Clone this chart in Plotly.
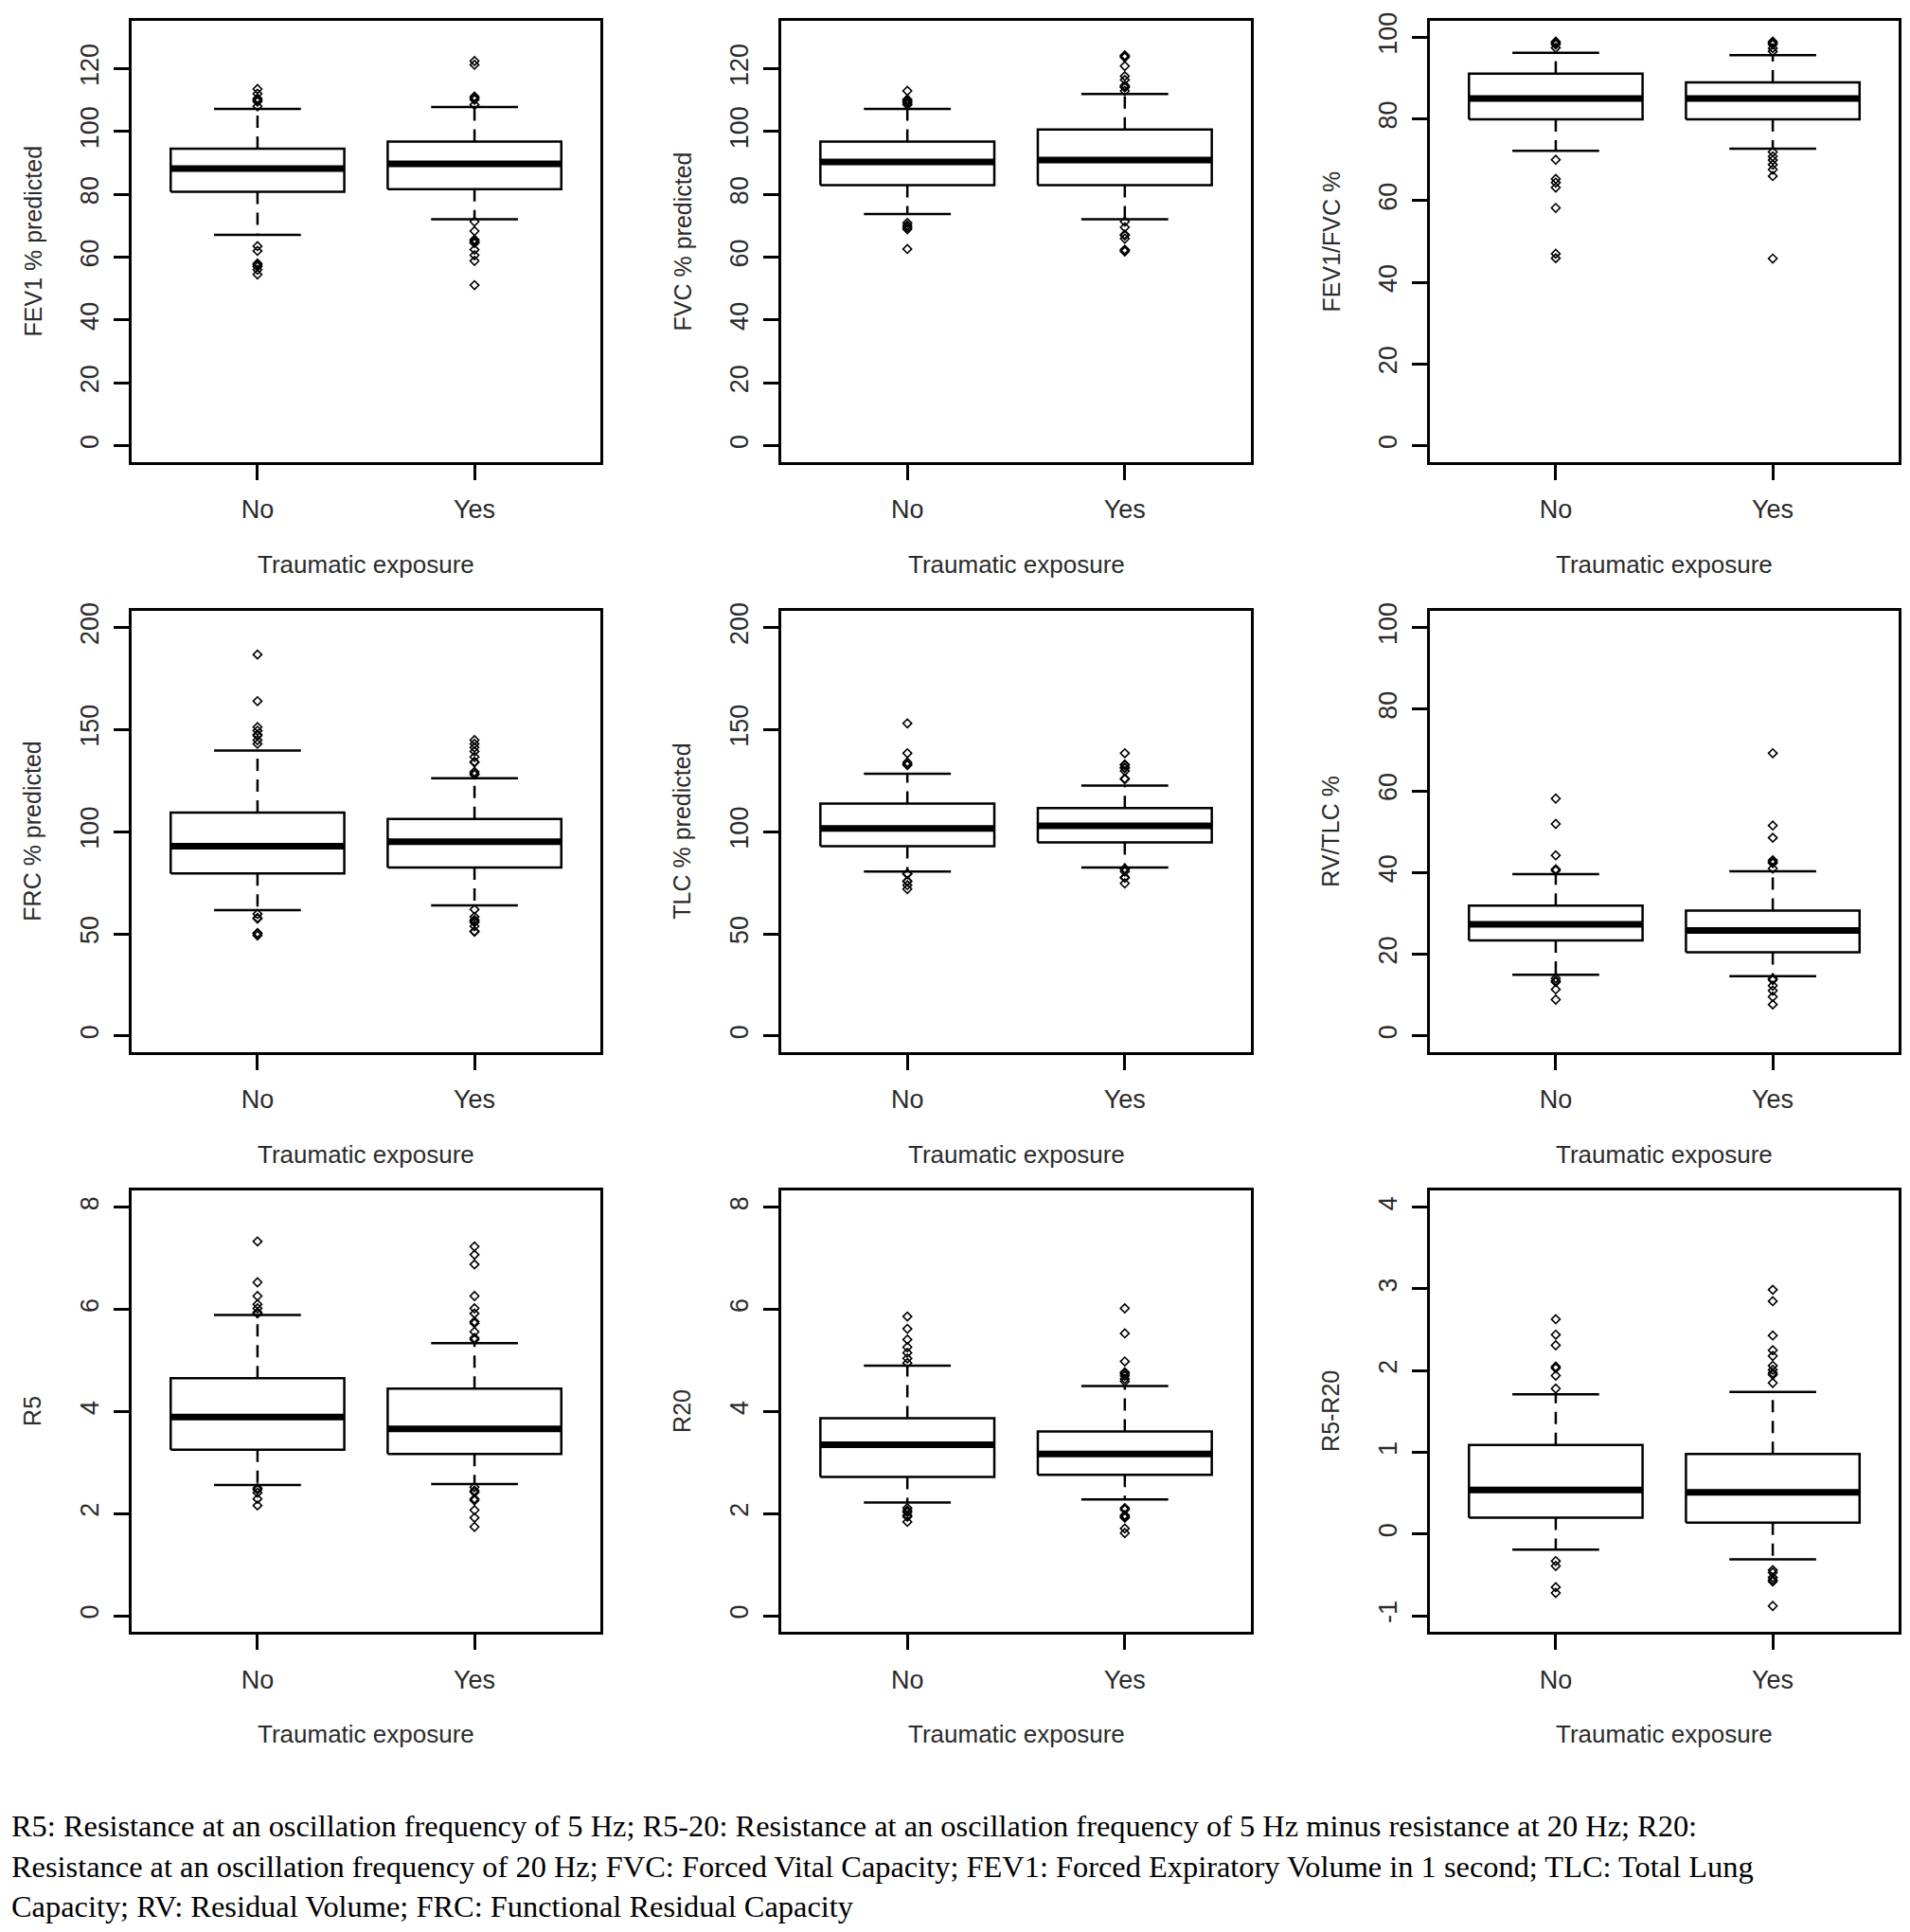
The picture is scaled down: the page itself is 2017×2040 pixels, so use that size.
import plotly.graph_objects as go

# ---------------- data ----------------
categories = ["No", "Yes"]
x_title = "Traumatic exposure"

# FEV1 % predicted
fev1_q1 = [80.8, 81.6]
fev1_med = [88.2, 89.7]
fev1_q3 = [94.5, 96.8]
fev1_lo = [67.1, 72.1]
fev1_hi = [107.2, 107.8]
fev1_out_no = [113.5, 112.0, 110.5, 110.0, 109.5, 108.0, 63.5, 62.0, 58.0, 57.5, 57.0, 56.0, 54.5]
fev1_out_yes = [122.4, 121.2, 111.1, 110.6, 110.1, 108.5, 71.3, 68.3, 65.6, 65.3, 64.8, 64.5, 62.4, 60.6, 58.8, 51.1]

# FVC % predicted
fvc_q1 = [82.9, 82.9]
fvc_med = [90.3, 90.9]
fvc_q3 = [96.8, 100.6]
fvc_lo = [73.7, 72.1]
fvc_hi = [107.2, 111.9]
fvc_out_no = [112.9, 110.2, 109.9, 109.4, 109.0, 108.5, 70.9, 70.1, 69.5, 68.9, 62.6]
fvc_out_yes = [124.2, 123.9, 123.6, 120.8, 117.6, 116.4, 114.6, 114.3, 114.0, 112.9,
               71.3, 69.5, 67.2, 66.9, 65.9, 62.4, 62.1, 61.8]

# FEV1/FVC %
ratio_q1 = [79.9, 79.9]
ratio_med = [85.0, 85.0]
ratio_q3 = [91.1, 88.9]
ratio_lo = [72.2, 72.7]
ratio_hi = [96.2, 95.6]
ratio_out_no = [98.9, 98.6, 98.2, 97.4, 70.0, 65.3, 64.4, 63.2, 58.2, 47.0, 45.9]
ratio_out_yes = [98.9, 98.6, 98.2, 97.3, 96.5, 71.9, 70.8, 69.9, 68.8, 67.6, 66.0, 45.8]

# FRC % predicted
frc_q1 = [79.6, 82.5]
frc_med = [92.9, 95.1]
frc_q3 = [109.3, 106.2]
frc_lo = [61.6, 63.9]
frc_hi = [139.7, 126.2]
frc_out_no = [186.7, 163.9, 151.2, 149.4, 147.5, 147.0, 144.8, 143.0, 59.7, 57.8, 57.4, 50.4, 50.1, 49.2]
frc_out_yes = [144.8, 143.0, 141.2, 139.3, 136.6, 134.2, 133.9, 129.3, 128.3, 127.9,
               61.9, 58.3, 56.8, 56.0, 55.6, 53.7, 51.3, 51.0]

# TLC % predicted
tlc_q1 = [92.9, 94.7]
tlc_med = [101.6, 102.9]
tlc_q3 = [113.8, 111.5]
tlc_lo = [80.5, 82.5]
tlc_hi = [128.4, 122.6]
tlc_out_no = [153.0, 138.4, 133.9, 133.0, 132.6, 79.5, 79.2, 75.9, 75.6, 73.8, 71.9]
tlc_out_yes = [138.4, 132.9, 132.6, 131.4, 131.1, 129.7, 126.0, 125.7, 81.9, 81.6, 80.5, 77.7, 77.4, 74.7]

# RV/TLC %
rvtlc_q1 = [23.4, 20.5]
rvtlc_med = [27.3, 25.8]
rvtlc_q3 = [31.9, 30.7]
rvtlc_lo = [15.0, 14.6]
rvtlc_hi = [39.6, 40.3]
rvtlc_out_no = [58.1, 51.9, 44.2, 40.8, 40.5, 14.1, 13.5, 13.2, 11.4, 8.9]
rvtlc_out_yes = [69.2, 51.5, 48.5, 43.0, 42.6, 42.3, 41.0, 14.0, 13.7, 12.3, 11.1, 9.6, 7.7]

# R5
r5_q1 = [3.25, 3.17]
r5_med = [3.89, 3.66]
r5_q3 = [4.65, 4.45]
r5_lo = [2.56, 2.58]
r5_hi = [5.89, 5.34]
r5_out_no = [7.33, 6.53, 6.26, 6.10, 6.02, 5.94, 5.92, 2.50, 2.47, 2.41, 2.29, 2.16]
r5_out_yes = [7.23, 7.07, 6.88, 6.26, 6.02, 5.92, 5.76, 5.73, 5.56, 5.44, 5.41,
              2.52, 2.45, 2.42, 2.29, 2.26, 2.07, 1.92, 1.74]

# R20
r20_q1 = [2.72, 2.76]
r20_med = [3.35, 3.17]
r20_q3 = [3.87, 3.61]
r20_lo = [2.22, 2.28]
r20_hi = [4.90, 4.50]
r20_out_no = [5.86, 5.62, 5.41, 5.26, 5.15, 5.04, 4.95, 2.11, 2.06, 2.03, 1.97, 1.94, 1.84]
r20_out_yes = [6.02, 5.53, 4.98, 4.77, 4.74, 4.70, 4.64, 4.59, 2.11, 2.08, 1.97, 1.94, 1.92, 1.71, 1.62]

# R5-R20
diff_q1 = [0.20, 0.14]
diff_med = [0.54, 0.51]
diff_q3 = [1.09, 0.98]
diff_lo = [-0.19, -0.31]
diff_hi = [1.71, 1.74]
diff_out_no = [2.63, 2.44, 2.31, 2.05, 2.03, 1.94, 1.78, -0.33, -0.39, -0.65, -0.72]
diff_out_yes = [2.99, 2.85, 2.43, 2.25, 2.18, 2.06, 2.01, 1.97, 1.95, 1.85,
                -0.44, -0.47, -0.53, -0.56, -0.58, -0.88]

# y-axis titles, limits and ticks
y_titles = ["FEV1 % predicted", "FVC % predicted", "FEV1/FVC %",
            "FRC % predicted", "TLC % predicted", "RV/TLC %",
            "R5", "R20", "R5-R20"]
y_limits = [(0, 130), (0, 130), (0, 100),
            (0, 200), (0, 200), (0, 100),
            (0, 8), (0, 8), (-1, 4)]
y_ticks = [[0, 20, 40, 60, 80, 100, 120], [0, 20, 40, 60, 80, 100, 120], [0, 20, 40, 60, 80, 100],
           [0, 50, 100, 150, 200], [0, 50, 100, 150, 200], [0, 20, 40, 60, 80, 100],
           [0, 2, 4, 6, 8], [0, 2, 4, 6, 8], [-1, 0, 1, 2, 3, 4]]

caption_lines = [
    "R5: Resistance at an oscillation frequency of 5 Hz; R5-20: Resistance at an oscillation frequency of 5 Hz minus resistance at 20 Hz; R20:",
    "Resistance at an oscillation frequency of 20 Hz; FVC: Forced Vital Capacity; FEV1: Forced Expiratory Volume in 1 second; TLC: Total Lung",
    "Capacity; RV: Residual Volume; FRC: Functional Residual Capacity",
]

panels = [
    (fev1_q1, fev1_med, fev1_q3, fev1_lo, fev1_hi, [fev1_out_no, fev1_out_yes]),
    (fvc_q1, fvc_med, fvc_q3, fvc_lo, fvc_hi, [fvc_out_no, fvc_out_yes]),
    (ratio_q1, ratio_med, ratio_q3, ratio_lo, ratio_hi, [ratio_out_no, ratio_out_yes]),
    (frc_q1, frc_med, frc_q3, frc_lo, frc_hi, [frc_out_no, frc_out_yes]),
    (tlc_q1, tlc_med, tlc_q3, tlc_lo, tlc_hi, [tlc_out_no, tlc_out_yes]),
    (rvtlc_q1, rvtlc_med, rvtlc_q3, rvtlc_lo, rvtlc_hi, [rvtlc_out_no, rvtlc_out_yes]),
    (r5_q1, r5_med, r5_q3, r5_lo, r5_hi, [r5_out_no, r5_out_yes]),
    (r20_q1, r20_med, r20_q3, r20_lo, r20_hi, [r20_out_no, r20_out_yes]),
    (diff_q1, diff_med, diff_q3, diff_lo, diff_hi, [diff_out_no, diff_out_yes]),
]

# ---------------- layout geometry (page pixels) ----------------
OFF = 8                      # default body margin of the html page
W, H = 2017 - 2 * OFF, 2040 - 2 * OFF
col_px = [(139, 634), (825, 1321), (1510, 2005)]
row_px = [(13, 481), (639, 1107), (1254, 1722)]


def px_x(p):
    return (p - OFF) / W


def px_y(p):
    return 1 - (p - OFF) / H


SANS = "Liberation Sans, Arial, sans-serif"
SERIF = "Liberation Serif, Times New Roman, serif"
TXT = "#2b2b2b"
FS_TICK = 27
FS_XT = 26
FS_YT = 25
LW = 2.5
HALF_BOX = 0.4
HALF_STAPLE = 0.2

fig = go.Figure()
layout_axes = {}
annotations = []

for i, (q1, med, q3, lo, hi, outs) in enumerate(panels):
    r, c = divmod(i, 3)
    n = i + 1
    xa = "x" if n == 1 else f"x{n}"
    ya = "y" if n == 1 else f"y{n}"
    xl, xr = col_px[c]
    yt, yb = row_px[r]

    for k, cat_pos in enumerate([1, 2]):
        # box
        fig.add_trace(go.Scatter(
            x=[cat_pos - HALF_BOX, cat_pos + HALF_BOX, cat_pos + HALF_BOX, cat_pos - HALF_BOX, cat_pos - HALF_BOX],
            y=[q1[k], q1[k], q3[k], q3[k], q1[k]],
            mode="lines", line=dict(color="black", width=LW),
            xaxis=xa, yaxis=ya, showlegend=False, hoverinfo="skip"))
        # median
        fig.add_trace(go.Scatter(
            x=[cat_pos - HALF_BOX, cat_pos + HALF_BOX], y=[med[k], med[k]],
            mode="lines", line=dict(color="black", width=7),
            xaxis=xa, yaxis=ya, showlegend=False, hoverinfo="skip"))
        # whiskers (dashed)
        fig.add_trace(go.Scatter(
            x=[cat_pos, cat_pos, None, cat_pos, cat_pos],
            y=[q3[k], hi[k], None, q1[k], lo[k]],
            mode="lines", line=dict(color="black", width=LW, dash="13px,9px"),
            xaxis=xa, yaxis=ya, showlegend=False, hoverinfo="skip"))
        # staples
        fig.add_trace(go.Scatter(
            x=[cat_pos - HALF_STAPLE, cat_pos + HALF_STAPLE, None, cat_pos - HALF_STAPLE, cat_pos + HALF_STAPLE],
            y=[hi[k], hi[k], None, lo[k], lo[k]],
            mode="lines", line=dict(color="black", width=LW),
            xaxis=xa, yaxis=ya, showlegend=False, hoverinfo="skip"))
        # outliers
        fig.add_trace(go.Scatter(
            x=[cat_pos] * len(outs[k]), y=outs[k],
            mode="markers",
            marker=dict(symbol="diamond-open", size=7, color="black", line=dict(width=1.6, color="black")),
            xaxis=xa, yaxis=ya, showlegend=False, hoverinfo="skip"))

    lo_lim, hi_lim = y_limits[i]
    ext = 0.04 * (hi_lim - lo_lim)
    key_x = "xaxis" if n == 1 else f"xaxis{n}"
    key_y = "yaxis" if n == 1 else f"yaxis{n}"
    layout_axes[key_x] = dict(
        domain=[px_x(xl), px_x(xr)], anchor=ya, range=[0.42, 2.58],
        tickmode="array", tickvals=[1, 2], ticktext=categories,
        ticks="outside", ticklen=16, tickwidth=LW, tickcolor="black",
        showline=True, mirror=True, linecolor="black", linewidth=LW,
        showgrid=False, zeroline=False, fixedrange=True,
        tickfont=dict(family=SANS, size=FS_TICK, color=TXT), ticklabelstandoff=8)
    layout_axes[key_y] = dict(
        domain=[px_y(yb), px_y(yt)], anchor=xa, range=[lo_lim - ext, hi_lim + ext],
        tickmode="array", tickvals=y_ticks[i], ticktext=[str(v) for v in y_ticks[i]],
        ticks="outside", ticklen=16, tickwidth=LW, tickcolor="black", tickangle=-90,
        showline=True, mirror=True, linecolor="black", linewidth=LW,
        showgrid=False, zeroline=False, fixedrange=True,
        tickfont=dict(family=SANS, size=FS_TICK, color=TXT), ticklabelstandoff=5)

    # axis titles
    annotations.append(dict(
        x=px_x((xl + xr) / 2), y=px_y(yb + 108.5), xref="paper", yref="paper",
        text=x_title, showarrow=False, xanchor="center", yanchor="middle",
        font=dict(family=SANS, size=FS_XT, color=TXT)))
    annotations.append(dict(
        x=px_x(xl - 104.5), y=px_y((yt + yb) / 2), xref="paper", yref="paper",
        text=y_titles[i], showarrow=False, xanchor="center", yanchor="middle", textangle=-90,
        font=dict(family=SANS, size=FS_YT, color=TXT)))

caption_y = [1928, 1971, 2013]
for line, cy in zip(caption_lines, caption_y):
    annotations.append(dict(
        x=px_x(10), y=px_y(cy), xref="paper", yref="paper", text=line, showarrow=False,
        xanchor="left", yanchor="middle", align="left",
        font=dict(family=SERIF, size=32.4, color="black")))

fig.update_layout(
    width=W, height=H, margin=dict(l=0, r=0, t=0, b=0),
    paper_bgcolor="white", plot_bgcolor="white",
    showlegend=False, annotations=annotations, **layout_axes)

fig.write_html("out.html")
